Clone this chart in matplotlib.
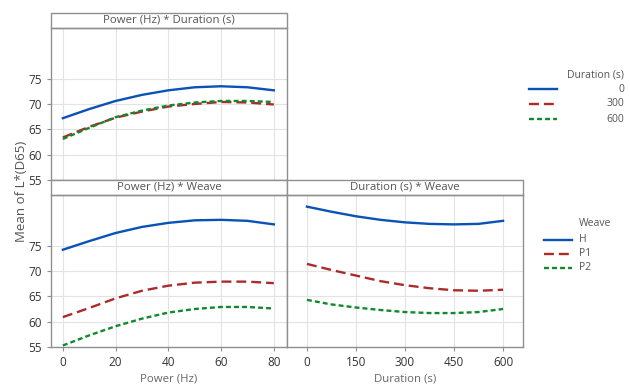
import numpy as np
import matplotlib
matplotlib.use("Agg")
import matplotlib.pyplot as plt
from matplotlib.patches import Rectangle
from matplotlib.lines import Line2D

plt.rcParams['font.family'] = ['Open Sans', 'DejaVu Sans']

# data
power = [0, 10, 20, 30, 40, 50, 60, 70, 80]
duration = [0, 75, 150, 225, 300, 375, 450, 525, 600]

dur_levels = ['0', '300', '600']
pw_dur_0 = [67.2, 69.0, 70.6, 71.8, 72.7, 73.3, 73.5, 73.3, 72.7]
pw_dur_300 = [63.4, 65.5, 67.3, 68.5, 69.5, 70.0, 70.4, 70.3, 69.9]
pw_dur_600 = [63.1, 65.3, 67.4, 68.7, 69.7, 70.3, 70.6, 70.6, 70.4]

weave_levels = ['H', 'P1', 'P2']
pw_wv_H = [74.2, 75.9, 77.5, 78.7, 79.5, 80.0, 80.1, 79.9, 79.2]
pw_wv_P1 = [60.9, 62.7, 64.6, 66.1, 67.1, 67.7, 67.9, 67.9, 67.6]
pw_wv_P2 = [55.3, 57.3, 59.1, 60.6, 61.8, 62.5, 62.9, 62.9, 62.6]

du_wv_H = [82.7, 81.7, 80.8, 80.1, 79.6, 79.3, 79.2, 79.3, 79.9]
du_wv_P1 = [71.4, 70.2, 69.1, 68.0, 67.2, 66.6, 66.2, 66.1, 66.3]
du_wv_P2 = [64.3, 63.4, 62.8, 62.3, 61.9, 61.7, 61.7, 61.9, 62.5]

colors = ['#0a52b5', '#ad2a2a', '#118a2e']
styles = [dict(linestyle='-'), dict(dashes=(4.2, 2.1)), dict(dashes=(2.1, 1.3))]
LW = 1.7

W, H = 630, 386
frame_col = '#8f8f8f'
grid_col = '#e3e3e3'

fig = plt.figure(figsize=(6.3, 3.86), dpi=100)

def make_ax(x0, x1, ytop, ybot):
    return fig.add_axes([x0 / W, 1 - ybot / H, (x1 - x0) / W, (ybot - ytop) / H])

ax_tl = make_ax(51, 287, 28, 180)
ax_bl = make_ax(51, 287, 195, 347)
ax_br = make_ax(287, 523, 195, 347)

def style_ax(ax, title, xticks, xlim, show_x=True, show_y=True):
    ax.set_ylim(55, 85)
    ax.set_yticks([55, 60, 65, 70, 75])
    ax.set_xlim(*xlim)
    ax.set_xticks(xticks)
    ax.grid(True, color=grid_col, lw=0.8)
    ax.set_axisbelow(True)
    for s in ax.spines.values():
        s.set_color(frame_col)
        s.set_linewidth(1.0)
    ax.tick_params(colors=frame_col, labelcolor='#333333', labelsize=8.5, length=3, width=0.8)
    if not show_x:
        ax.tick_params(axis='x', length=0, labelbottom=False)
    if not show_y:
        ax.tick_params(axis='y', length=0, labelleft=False)
    hh = 15 / 152
    ax.add_patch(Rectangle((0, 1), 1, hh, transform=ax.transAxes, clip_on=False,
                           facecolor='white', edgecolor=frame_col, lw=1.0))
    ax.text(0.5, 1 + hh / 2, title, transform=ax.transAxes, ha='center', va='center',
            fontsize=8.2, color='#555555')

style_ax(ax_tl, 'Power (Hz) * Duration (s)', [0, 20, 40, 60, 80], (-4.5, 85), show_x=False)
style_ax(ax_bl, 'Power (Hz) * Weave', [0, 20, 40, 60, 80], (-4.5, 85))
style_ax(ax_br, 'Duration (s) * Weave', [0, 150, 300, 450, 600], (-61, 661), show_y=False)

for ys, c, st in zip([pw_dur_0, pw_dur_300, pw_dur_600], colors, styles):
    ax_tl.plot(power, ys, color=c, lw=LW, **st)
for ys, c, st in zip([pw_wv_H, pw_wv_P1, pw_wv_P2], colors, styles):
    ax_bl.plot(power, ys, color=c, lw=LW, **st)
for ys, c, st in zip([du_wv_H, du_wv_P1, du_wv_P2], colors, styles):
    ax_br.plot(duration, ys, color=c, lw=LW, **st)

ax_bl.set_xlabel('Power (Hz)', fontsize=8.2, color='#666666', labelpad=3)
ax_br.set_xlabel('Duration (s)', fontsize=8.2, color='#666666', labelpad=3)
fig.text(22 / W, 1 - 191.5 / H, 'Mean of L*(D65)', rotation=90, ha='center', va='center',
         fontsize=9.5, color='#555555')

# legend: Duration
fig.text(624 / W, 1 - 75 / H, 'Duration (s)', ha='right', va='center', fontsize=7.5, color='#555555')
for i, (lab, c, st) in enumerate(zip(dur_levels, colors, styles)):
    y = 1 - (89 + 15 * i) / H
    fig.add_artist(Line2D([529 / W, 557 / W], [y, y], color=c, lw=LW, **st))
    fig.text(624 / W, y, lab, ha='right', va='center', fontsize=7.5, color='#555555')

# legend: Weave
fig.text(579 / W, 1 - 224 / H, 'Weave', ha='left', va='center', fontsize=7.5, color='#555555')
for i, (lab, c, st) in enumerate(zip(weave_levels, colors, styles)):
    y = 1 - (240 + 14 * i) / H
    fig.add_artist(Line2D([544 / W, 572 / W], [y, y], color=c, lw=LW, **st))
    fig.text(579 / W, y, lab, ha='left', va='center', fontsize=7.5, color='#555555')

fig.savefig('out.png', dpi=100)
